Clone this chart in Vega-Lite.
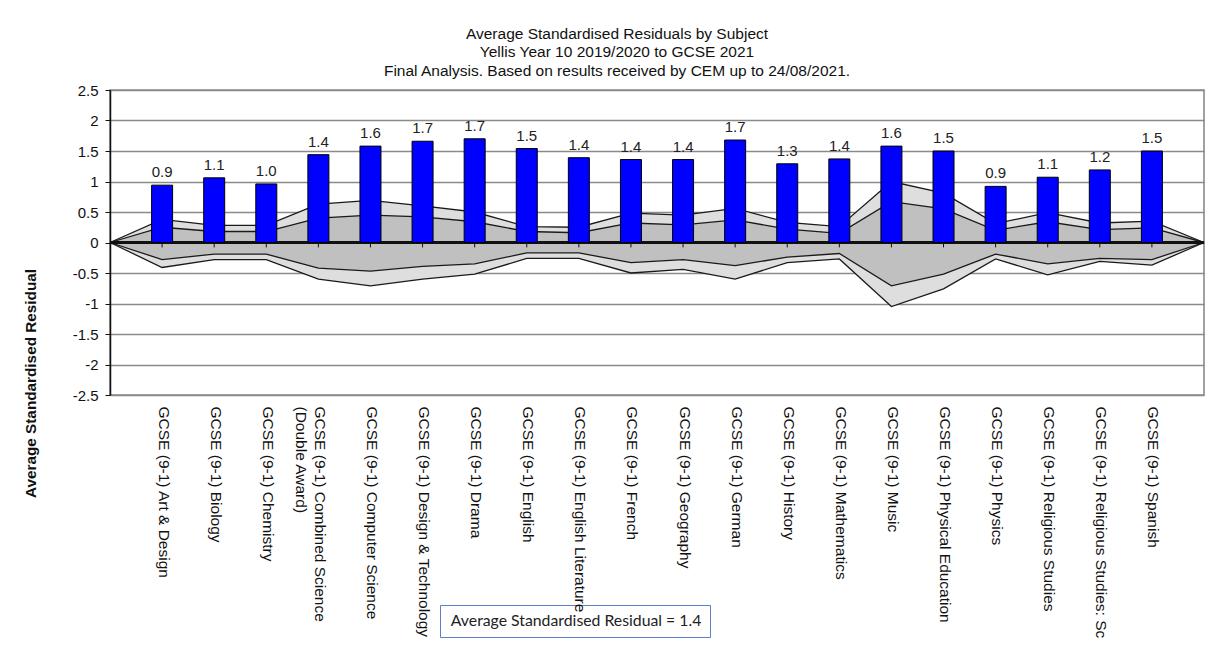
{
  "$schema": "https://vega.github.io/schema/vega-lite/v6.json",
  "width": 1094,
  "height": 305,
  "autosize": "none",
  "padding": {"left": 110, "top": 90, "right": 17, "bottom": 274},
  "background": "white",
  "config": {
    "font": "Liberation Sans",
    "view": {"stroke": "#8a8a8a", "strokeWidth": 1.6}
  },
  "title": {
    "text": ["Average Standardised Residuals by Subject", "Yellis Year 10 2019/2020 to GCSE 2021", "Final Analysis. Based on results received by CEM up to 24/08/2021."],
    "font": "Liberation Sans",
    "fontSize": 15.5,
    "fontWeight": "normal",
    "color": "#111111",
    "lineHeight": 18.5,
    "anchor": "middle",
    "frame": "group",
    "dx": -40,
    "offset": 4
  },
  "data": {
    "values": [
      {"subject": "start", "u2": 0, "u1": 0, "l1": 0, "l2": 0},
      {"subject": "GCSE (9-1) Art & Design", "value": 0.94, "u2": 0.38, "u1": 0.25, "l1": -0.28, "l2": -0.41},
      {"subject": "GCSE (9-1) Biology", "value": 1.06, "u2": 0.28, "u1": 0.18, "l1": -0.19, "l2": -0.28},
      {"subject": "GCSE (9-1) Chemistry", "value": 0.96, "u2": 0.28, "u1": 0.18, "l1": -0.19, "l2": -0.28},
      {"subject": "GCSE (9-1) Combined Science (Double Award)", "value": 1.44, "u2": 0.63, "u1": 0.40, "l1": -0.42, "l2": -0.60},
      {"subject": "GCSE (9-1) Computer Science", "value": 1.58, "u2": 0.69, "u1": 0.45, "l1": -0.47, "l2": -0.71},
      {"subject": "GCSE (9-1) Design & Technology", "value": 1.66, "u2": 0.60, "u1": 0.42, "l1": -0.39, "l2": -0.60},
      {"subject": "GCSE (9-1) Drama", "value": 1.70, "u2": 0.50, "u1": 0.34, "l1": -0.35, "l2": -0.52},
      {"subject": "GCSE (9-1) English", "value": 1.54, "u2": 0.26, "u1": 0.18, "l1": -0.17, "l2": -0.26},
      {"subject": "GCSE (9-1) English Literature", "value": 1.39, "u2": 0.25, "u1": 0.16, "l1": -0.17, "l2": -0.26},
      {"subject": "GCSE (9-1) French", "value": 1.36, "u2": 0.48, "u1": 0.32, "l1": -0.33, "l2": -0.50},
      {"subject": "GCSE (9-1) Geography", "value": 1.36, "u2": 0.45, "u1": 0.29, "l1": -0.28, "l2": -0.44},
      {"subject": "GCSE (9-1) German", "value": 1.68, "u2": 0.56, "u1": 0.37, "l1": -0.38, "l2": -0.60},
      {"subject": "GCSE (9-1) History", "value": 1.29, "u2": 0.33, "u1": 0.22, "l1": -0.24, "l2": -0.33},
      {"subject": "GCSE (9-1) Mathematics", "value": 1.37, "u2": 0.26, "u1": 0.15, "l1": -0.18, "l2": -0.27},
      {"subject": "GCSE (9-1) Music", "value": 1.58, "u2": 1.00, "u1": 0.67, "l1": -0.71, "l2": -1.05},
      {"subject": "GCSE (9-1) Physical Education", "value": 1.50, "u2": 0.81, "u1": 0.55, "l1": -0.52, "l2": -0.76},
      {"subject": "GCSE (9-1) Physics", "value": 0.92, "u2": 0.31, "u1": 0.20, "l1": -0.19, "l2": -0.27},
      {"subject": "GCSE (9-1) Religious Studies", "value": 1.07, "u2": 0.49, "u1": 0.34, "l1": -0.35, "l2": -0.53},
      {"subject": "GCSE (9-1) Religious Studies: Sc", "value": 1.19, "u2": 0.32, "u1": 0.21, "l1": -0.26, "l2": -0.31},
      {"subject": "GCSE (9-1) Spanish", "value": 1.50, "u2": 0.35, "u1": 0.24, "l1": -0.28, "l2": -0.37},
      {"subject": "end", "u2": 0, "u1": 0, "l1": 0, "l2": 0}
    ]
  },
  "encoding": {
    "x": {
      "field": "subject",
      "type": "nominal",
      "sort": null,
      "scale": {"type": "point", "padding": 0},
      "axis": {
        "title": null,
        "ticks": false,
        "tickSize": 0,
        "domain": false,
        "grid": false,
        "zindex": 2,
        "labelAngle": 90,
        "labelAlign": "left",
        "labelBaseline": "middle",
        "labelPadding": 11,
        "labelFontSize": 15.5,
        "labelColor": "#111111",
        "labelLimit": 0,
        "labelOverlap": false,
        "labelBound": false,
        "labelFlush": false,
        "labelLineHeight": 18.5,
        "labelOffset": 1,
        "labelExpr": "datum.value == 'start' || datum.value == 'end' ? '' : (indexof(datum.value, '(Double') > 0 ? ['GCSE (9-1) Combined Science', '(Double Award)'] : datum.value)"
      }
    }
  },
  "layer": [
    {
      "mark": {"type": "area", "color": "#dedede", "opacity": 1},
      "encoding": {
        "y": {
          "field": "l2",
          "type": "quantitative",
          "scale": {"domain": [-2.5, 2.5], "nice": false, "zero": false},
          "axis": {
            "title": "Average Standardised Residual",
            "titleFontSize": 15.3,
            "titleFontWeight": "bold",
            "titleColor": "#111111",
            "titleX": -80,
            "titleY": 293,
            "titleAngle": -90,
            "titleAlign": "center",
            "titleBaseline": "middle",
            "values": [-2.5, -2, -1.5, -1, -0.5, 0, 0.5, 1, 1.5, 2, 2.5],
            "tickCount": 11,
            "labelOverlap": false,
            "labelExpr": "'' + datum.value",
            "labelFontSize": 15,
            "labelColor": "#111111",
            "labelPadding": 7,
            "tickSize": 5,
            "tickColor": "#111111",
            "domainColor": "#111111",
            "domainWidth": 1.5,
            "grid": true,
            "gridColor": "#8a8a8a",
            "gridWidth": 1.6
          }
        },
        "y2": {"field": "u2"}
      }
    },
    {
      "mark": {"type": "area", "color": "#c0c0c0", "opacity": 1},
      "encoding": {
        "y": {"field": "l1", "type": "quantitative"},
        "y2": {"field": "u1"}
      }
    },
    {
      "mark": {"type": "line", "color": "#1a1a1a", "strokeWidth": 1.3},
      "encoding": {"y": {"field": "u2", "type": "quantitative"}}
    },
    {
      "mark": {"type": "line", "color": "#1a1a1a", "strokeWidth": 1.3},
      "encoding": {"y": {"field": "u1", "type": "quantitative"}}
    },
    {
      "mark": {"type": "line", "color": "#1a1a1a", "strokeWidth": 1.3},
      "encoding": {"y": {"field": "l1", "type": "quantitative"}}
    },
    {
      "mark": {"type": "line", "color": "#1a1a1a", "strokeWidth": 1.3},
      "encoding": {"y": {"field": "l2", "type": "quantitative"}}
    },
    {
      "mark": {"type": "rule", "color": "#111111", "strokeWidth": 1.5},
      "encoding": {"x": null, "y": {"datum": 0}}
    },
    {
      "transform": [{"filter": "isValid(datum.value)"}],
      "mark": {"type": "rule", "color": "#111111", "strokeWidth": 1},
      "encoding": {"y": {"datum": 0}, "y2": {"datum": -0.08}}
    },
    {
      "transform": [{"filter": "isValid(datum.value)"}],
      "mark": {"type": "bar", "size": 21, "stroke": "#000000", "strokeWidth": 1},
      "encoding": {
        "y": {"field": "value", "type": "quantitative"},
        "color": {
          "datum": "Average Standardised Residual = 1.4",
          "scale": {"range": ["#0000ff"]},
          "legend": {
            "title": null,
            "orient": "none",
            "legendX": 330,
            "legendY": 515,
            "padding": 8,
            "zindex": 1,
            "strokeColor": "#5b80c8",
            "fillColor": "#ffffff",
            "symbolSize": 1,
            "symbolOpacity": 0,
            "symbolStrokeWidth": 0,
            "labelOffset": -13,
            "labelFont": "Lato",
            "labelFontSize": 15.8,
            "labelColor": "#222222",
            "labelLimit": 500
          }
        }
      }
    },
    {
      "transform": [{"filter": "isValid(datum.value)"}],
      "mark": {"type": "text", "baseline": "alphabetic", "dy": -8, "fontSize": 15, "color": "#222222"},
      "encoding": {
        "y": {"field": "value", "type": "quantitative"},
        "text": {"field": "value", "type": "quantitative", "format": ".1f"}
      }
    }
  ]
}
